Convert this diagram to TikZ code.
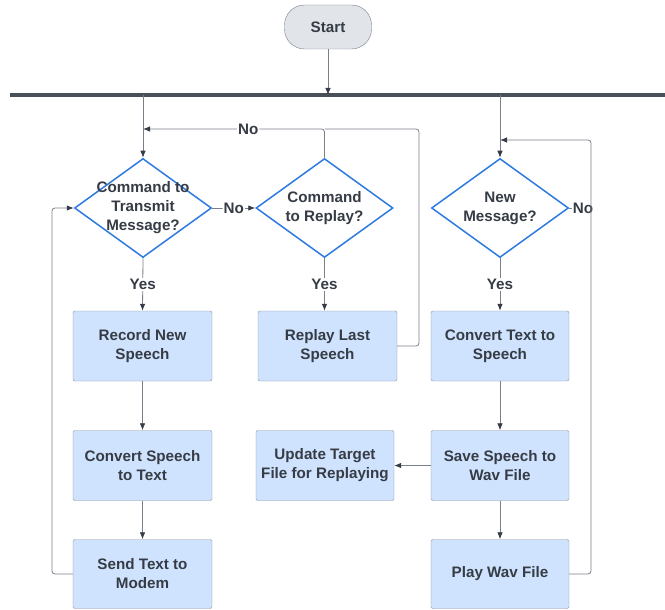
\documentclass[tikz,border=0pt]{standalone}
\usepackage{fontspec}
\setmainfont{Liberation Sans}
\usepackage{tikz}
\usetikzlibrary{shapes.geometric,arrows.meta}
\definecolor{txtgray}{HTML}{363C45}
\definecolor{linegray}{HTML}{7A808A}
\definecolor{boxblue}{HTML}{CFE3FE}
\definecolor{boxedge}{HTML}{8A929E}
\definecolor{decblue}{HTML}{2D7BE2}
\definecolor{startgray}{HTML}{E1E4E9}

\begin{document}
\begin{tikzpicture}[x=1pt,y=-1pt,
    every node/.style={font=\fontsize{15.2}{19}\selectfont\bfseries,text=txtgray},
    process/.style={rectangle,draw=boxedge,fill=boxblue,rounded corners=2pt,
        minimum width=139pt,minimum height=70pt,align=center,inner sep=0pt},
    decision/.style={diamond,draw=decblue,line width=1.5pt,fill=white,
        minimum width=137pt,minimum height=99pt,inner sep=0pt},
    dectext/.style={align=center},
    terminal/.style={rectangle,draw=linegray,fill=startgray,rounded corners=20pt,
        minimum width=87pt,minimum height=44pt},
    line/.style={draw=linegray,line width=0.8pt,rounded corners=3pt},
    flow/.style={line,-{Latex[length=7pt,width=5.5pt,color=txtgray]},color=linegray},
    lbl/.style={fill=white,inner sep=1pt}]

    \useasboundingbox (0,0) rectangle (665,610);

    \node [terminal] (start) at (328,27) {Start};
    \coordinate (busl) at (10,95);
    \coordinate (busr) at (665,95);
    \draw [line width=4pt,color=txtgray!90] (busl)--(busr);
    \draw [flow] (start.south)--(start.south |- busl);

    % decisions
    \node [decision] (transmit) at (143,208) {};
    \node [dectext] (transmitq) at (transmit) {Command to\\Transmit\\Message?};
    \node [decision] (replay) at (324.5,208) {};
    \node [dectext] (replayq) at (replay) {Command\\to Replay?};
    \node [decision] (newmsg) at (500,208) {};
    \node [dectext] (newmsgq) at (newmsg) {New\\Message?};

    % steps
    \node [process] (record) at (142.5,346) {Record New\\Speech};
    \node [process] (convert) at (142.5,465.5) {Convert Speech\\to Text};
    \node [process,minimum height=69pt] (send) at (142.5,574) {Send Text to\\Modem};
    \node [process] (replaylast) at (327.5,346) {Replay Last\\Speech};
    \node [process,minimum width=138pt] (update) at (325,465.5) {Update Target\\File for Replaying};
    \node [process,minimum width=138pt] (tts) at (500,346) {Convert Text to\\Speech};
    \node [process,minimum width=138pt] (save) at (500,465.5) {Save Speech to\\Wav File};
    \node [process,minimum width=138pt,minimum height=69pt] (play) at (500,574) {Play Wav File};

    \coordinate (noturn) at (419,129);
    \coordinate (msgturn) at (591,140);
    \coordinate (sendturn) at (52,574);

    \draw [flow] (transmit.north |- busl)--(transmit.north);
    \draw [flow] (newmsg.north |- busl)--(newmsg.north);

    \draw [flow] (transmit.east)--node[lbl]{No}(replay.west);
    \draw [flow] (replay.north) |- node[lbl,pos=0.71]{No} (transmit.north |- noturn);
    \draw [line] (replaylast.east) -| (noturn)--(replay.north |- noturn);

    \draw [line] (newmsg.east)--(583,208) node[lbl]{No};
    \draw [flow] (play.east) -| (msgturn)--(newmsg.north |- msgturn);

    \draw [flow] (transmit.south)--node[lbl]{Yes}(record.north);
    \draw [flow] (replay.south)--node[lbl]{Yes}(replay.south |- replaylast.north);
    \draw [flow] (newmsg.south)--node[lbl]{Yes}(tts.north);

    \draw [flow] (record)--(convert);
    \draw [flow] (convert)--(send);
    \draw [flow] (tts)--(save);
    \draw [flow] (save)--(update);
    \draw [flow] (save)--(play);
    \draw [flow] (send.west) -| (sendturn) |- (transmit.west);

\end{tikzpicture}
\end{document}
